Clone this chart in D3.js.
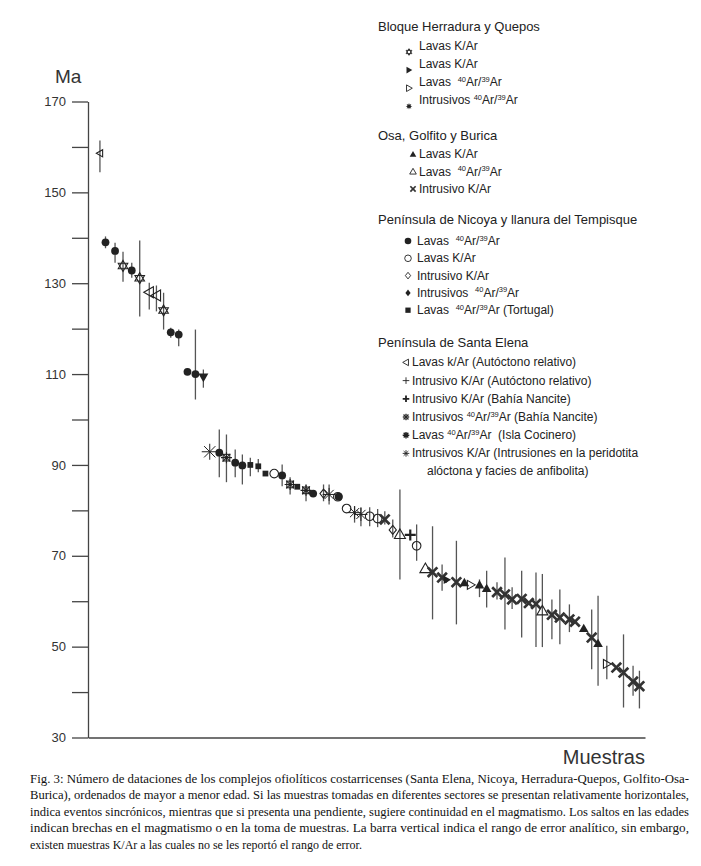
<!DOCTYPE html>
<html>
<head>
<meta charset="utf-8">
<script src="https://d3js.org/d3.v7.min.js"></script>
<style>
body { margin: 0; background: #fff; }
svg { display: block; }
text { white-space: pre; }
</style>
</head>
<body>
<svg id="chart" width="701" height="866"></svg>
<script>
// position of each sample along the "Muestras" axis (order of decreasing age)
var samplePos = [1.5, 2.2, 3.4, 4.4, 5.5, 6.5, 7.7, 8.6, 9.5, 10.4, 11.4, 12.5, 13.5, 14.5,
  15.3, 16.5, 17.4, 18.5, 19.4, 20.4, 21.4, 22.3, 23.4, 24.4, 25.4, 26.3, 27.4, 28.3,
  29.6, 30.3, 31.4, 31.5, 32.5, 33.5, 34.3, 35.4, 36.4, 37.3, 38.3, 39.2, 40.5, 41.3,
  42.4, 43.3, 44.5, 45.1, 46.3, 47.3, 48.1, 49.2, 50.1, 51.4, 52.4, 53.3, 54.5, 55.4,
  56.3, 57.1, 58.3, 59.3, 60.5, 61.2, 62.3, 63.3, 64.1, 65.2, 66.4, 67.3, 68.5, 69.3];

var sampleType = ["triLeftO", "circleF", "circleF", "starOpen", "circleF", "starOpen", "triLeftO", "triLeftO", "starOpen", "circleF", "circleF", "circleF", "circleF", "triDownF",
  "asterisk", "circleF", "starSquare", "circleF", "circleF", "squareF", "squareF", "squareF", "circleO", "circleF", "starSquare", "squareF", "starSquare", "circleF",
  "diamondO", "asterisk", "circleO", "circleF", "circleO", "asterisk", "asterisk", "circleO", "circleO", "cross", "diamondO", "triUpO", "plusBold", "circleO",
  "triUpO", "cross", "cross", "triRightF", "cross", "triUpF", "triRightO", "triUpF", "triUpF", "cross", "cross", "cross", "cross", "cross",
  "cross", "triUpO", "cross", "cross", "cross", "cross", "triUpF", "cross", "triUpF", "triRightO", "cross", "cross", "cross", "cross"];

var ageMa = [158.6, 139.0, 137.1, 133.8, 132.8, 131.1, 128.0, 127.3, 124.0, 119.2, 118.7, 110.5, 110.0, 109.3,
  92.9, 92.7, 91.6, 90.5, 89.9, 90.0, 89.7, 88.1, 88.1, 87.7, 85.7, 85.2, 84.4, 83.7,
  83.7, 83.5, 83.0, 83.0, 80.4, 79.5, 79.1, 78.7, 78.2, 78.0, 75.7, 74.7, 74.6, 72.2,
  67.2, 66.4, 65.2, 64.7, 64.2, 64.1, 63.6, 63.6, 62.8, 62.0, 61.5, 60.4, 60.5, 59.6,
  59.4, 57.9, 57.0, 56.4, 56.0, 55.5, 54.0, 52.0, 50.7, 46.2, 45.4, 44.3, 42.3, 41.3];

var errHigh = [161.4, 140.3, 138.9, 136.9, 134.5, 139.4, 130.1, 129.5, 127.9, 120.2, 119.8, null, 119.8, 111.0,
  null, 97.8, 96.7, 93.4, 92.3, 91.6, 91.3, null, null, 90.1, 87.3, null, 85.7, null,
  85.7, 85.7, null, null, null, 80.9, 80.7, 80.7, 80.3, 79.8, 78.0, 84.6, null, 76.9,
  null, 76.5, 68.1, null, 73.3, null, null, 64.8, 66.7, 64.2, 69.6, 63.1, 66.7, null,
  66.3, 66.0, 60.4, 62.6, 59.3, null, null, 58.2, 61.2, 50.2, null, 52.7, 45.8, 44.7];

var errLow = [154.4, 137.7, 134.5, 130.3, 131.2, 122.7, 124.2, 123.8, 119.8, 118.0, 116.1, null, 104.4, 107.0,
  null, 87.3, 86.2, 87.3, 85.7, 87.5, 88.4, null, null, 85.3, 83.5, null, 82.0, null,
  82.0, 81.3, null, null, null, 77.3, 76.5, 76.5, 76.3, 76.9, 74.0, 64.8, null, 68.9,
  null, 56.0, 62.3, null, 54.9, null, null, 60.9, 58.6, 60.4, 53.8, 58.3, 52.0, null,
  49.9, 49.9, 51.6, 50.5, 53.2, null, null, 45.0, 41.4, 42.8, null, 36.6, 39.2, 36.4];

var yTicks = [30, 40, 50, 60, 70, 80, 90, 100, 110, 120, 130, 140, 150, 160, 170];
var yTickLabels = [30, 50, 70, 90, 110, 130, 150, 170];

var groupTitles = ["Bloque Herradura y Quepos", "Osa, Golfito y Burica",
  "Península de Nicoya y llanura del Tempisque", "Península de Santa Elena"];
var legendSymbols = [
  ["starOpen", "triRightF", "triRightO", "starFilled"],
  ["triUpF", "triUpO", "cross"],
  ["circleF", "circleO", "diamondO", "diamondF", "squareF"],
  ["triLeftO", "plusThin", "plusBold", "starSquare", "burst", "asterisk"]
];
var legendLabels = [
  ["Lavas K/Ar", "Lavas K/Ar", "Lavas  {40}Ar/{39}Ar", "Intrusivos {40}Ar/{39}Ar"],
  ["Lavas K/Ar", "Lavas  {40}Ar/{39}Ar", "Intrusivo K/Ar"],
  ["Lavas  {40}Ar/{39}Ar", "Lavas K/Ar", "Intrusivo K/Ar", "Intrusivos  {40}Ar/{39}Ar", "Lavas  {40}Ar/{39}Ar (Tortugal)"],
  ["Lavas k/Ar (Autóctono relativo)", "Intrusivo K/Ar (Autóctono relativo)", "Intrusivo K/Ar (Bahía Nancite)",
   "Intrusivos {40}Ar/{39}Ar (Bahía Nancite)", "Lavas {40}Ar/{39}Ar  (Isla Cocinero)",
   "Intrusivos K/Ar (Intrusiones en la peridotita\nalóctona y facies de anfibolita)"]
];

var captionLines = [
  "Fig. 3: Número de dataciones de los complejos ofiolíticos costarricenses (Santa Elena, Nicoya, Herradura-Quepos, Golfito-Osa-",
  "Burica), ordenados de mayor a menor edad. Si las muestras tomadas en diferentes sectores se presentan relativamente horizontales,",
  "indica eventos sincrónicos, mientras que si presenta una pendiente, sugiere continuidad en el magmatismo. Los saltos en las edades",
  "indican brechas en el magmatismo o en la toma de muestras. La barra vertical indica el rango de error analítico, sin embargo,",
  "existen muestras K/Ar a las cuales no se les reportó el rango de error."
];

var svg = d3.select("#chart");
var ink = "#222";

var x = d3.scaleLinear().domain([0, 70]).range([88, 645]);
var y = d3.scaleLinear().domain([30, 170]).range([737.5, 101.5]);

// chart marker sizes per symbol type
var markSize = { circleF: 3.9, circleO: 4.3, squareF: 3.6, diamondO: 4.5, diamondF: 4.5,
  triUpF: 4.8, triUpO: 5.5, triDownF: 5, triRightF: 4.2, triRightO: 4.5, triLeftO: 5.5,
  cross: 6, plusThin: 5, plusBold: 5.5, asterisk: 6.5, burst: 5, starSquare: 5.5,
  starOpen: 5.5, starFilled: 5 };

function spokes(n, len) {
  var d = "";
  for (var k = 0; k < n; k++) {
    var a = Math.PI * k / n, dx = Math.cos(a) * len, dy = Math.sin(a) * len;
    d += "M" + (-dx) + "," + (-dy) + "L" + dx + "," + dy;
  }
  return d;
}

function drawMarker(g, type, r, small) {
  var sw = small ? 0.9 : 1.1;
  function p(d, fill, stroke, w) {
    g.append("path").attr("d", d).attr("fill", fill || "none")
      .attr("stroke", stroke || "none").attr("stroke-width", w || sw).attr("stroke-linejoin", "miter");
  }
  switch (type) {
    case "circleF": g.append("circle").attr("r", r).attr("fill", ink); break;
    case "circleO": g.append("circle").attr("r", r).attr("fill", "none").attr("stroke", ink).attr("stroke-width", sw); break;
    case "squareF": g.append("rect").attr("x", -r * 0.8).attr("y", -r * 0.8).attr("width", r * 1.6).attr("height", r * 1.6).attr("fill", ink); break;
    case "diamondO": p("M0," + (-r) + "L" + r * 0.8 + ",0L0," + r + "L" + (-r * 0.8) + ",0Z", null, ink); break;
    case "diamondF": p("M0," + (-r) + "L" + r * 0.8 + ",0L0," + r + "L" + (-r * 0.8) + ",0Z", ink); break;
    case "triUpF": p("M0," + (-r) + "L" + r + "," + r * 0.75 + "L" + (-r) + "," + r * 0.75 + "Z", ink); break;
    case "triUpO": p("M0," + (-r) + "L" + r + "," + r * 0.75 + "L" + (-r) + "," + r * 0.75 + "Z", null, ink); break;
    case "triDownF": p("M0," + r + "L" + r + "," + (-r * 0.75) + "L" + (-r) + "," + (-r * 0.75) + "Z", ink); break;
    case "triRightF": p("M" + r + ",0L" + (-r * 0.75) + "," + (-r) + "L" + (-r * 0.75) + "," + r + "Z", ink); break;
    case "triRightO": p("M" + r + ",0L" + (-r * 0.75) + "," + (-r) + "L" + (-r * 0.75) + "," + r + "Z", null, ink); break;
    case "triLeftO": p("M" + (-r) + ",0L" + r * 0.75 + "," + (-r) + "L" + r * 0.75 + "," + r + "Z", null, ink); break;
    case "cross":
      var k = r * 0.8;
      p("M" + (-k) + "," + (-k) + "L" + k + "," + k + "M" + k + "," + (-k) + "L" + (-k) + "," + k, null, "#333", small ? 1.7 : 2.7);
      break;
    case "plusThin": p("M" + (-r) + ",0H" + r + "M0," + (-r) + "V" + r, null, ink, 0.9); break;
    case "plusBold": p("M" + (-r) + ",0H" + r + "M0," + (-r) + "V" + r, null, ink, small ? 1.8 : 2.2); break;
    case "asterisk": p(spokes(4, r), null, ink, small ? 0.9 : 1); break;
    case "burst":
      p(spokes(4, r), null, ink, small ? 1.4 : 1.8);
      g.append("circle").attr("r", r * 0.45).attr("fill", ink);
      break;
    case "starSquare":
      g.append("rect").attr("x", -r * 0.6).attr("y", -r * 0.6).attr("width", r * 1.2).attr("height", r * 1.2)
        .attr("fill", "none").attr("stroke", ink).attr("stroke-width", sw);
      p(spokes(4, r), null, ink, small ? 0.9 : 1.1);
      break;
    case "starOpen":
      var h = r * 0.866;
      p("M0," + (-r) + "L" + h + "," + r / 2 + "L" + (-h) + "," + r / 2 + "Z" +
        "M0," + r + "L" + h + "," + (-r / 2) + "L" + (-h) + "," + (-r / 2) + "Z", null, ink);
      break;
    case "starFilled":
      var pts = [];
      for (var i = 0; i < 16; i++) {
        var rr = i % 2 ? r * 0.5 : r, a = Math.PI * i / 8 - Math.PI / 2;
        pts.push([Math.cos(a) * rr, Math.sin(a) * rr]);
      }
      p("M" + pts.join("L") + "Z", ink);
      break;
  }
}

// axes
var yAxis = d3.axisLeft(y).tickValues(yTicks).tickSize(16).tickSizeOuter(0).tickPadding(6)
  .tickFormat(function (d) { return yTickLabels.indexOf(d) >= 0 ? d : ""; });
var gy = svg.append("g").attr("transform", "translate(" + x(0) + ",0)").call(yAxis);
gy.selectAll("path, line").attr("stroke", "#444").attr("stroke-width", 1.3);
gy.selectAll("text").attr("font-family", "Liberation Sans, Arial, sans-serif").attr("font-size", 13).attr("fill", "#333");

var xAxis = d3.axisBottom(x).tickValues([]).tickSizeOuter(0);
var gx = svg.append("g").attr("transform", "translate(0," + y(30) + ")").call(xAxis);
gx.select("path").attr("stroke", "#444").attr("stroke-width", 1.3);

svg.append("text").attr("x", 55).attr("y", 83).text("Ma")
  .attr("font-family", "Liberation Sans, Arial, sans-serif").attr("font-size", 19).attr("fill", "#333");
svg.append("text").attr("x", 645).attr("y", 764).attr("text-anchor", "end").text("Muestras")
  .attr("font-family", "Liberation Sans, Arial, sans-serif").attr("font-size", 20).attr("fill", "#333");

// error bars
var idx = d3.range(samplePos.length);
svg.append("g").selectAll("line").data(idx.filter(function (i) { return errHigh[i] != null; }))
  .enter().append("line")
  .attr("x1", function (i) { return x(samplePos[i]); })
  .attr("x2", function (i) { return x(samplePos[i]); })
  .attr("y1", function (i) { return y(errHigh[i]); })
  .attr("y2", function (i) { return y(errLow[i]); })
  .attr("stroke", "#555").attr("stroke-width", 1.3);

// markers
svg.append("g").selectAll("g").data(idx).enter().append("g")
  .attr("transform", function (i) { return "translate(" + x(samplePos[i]) + "," + y(ageMa[i]) + ")"; })
  .each(function (i) {
    var r = markSize[sampleType[i]];
    if (i === 0) r = 3.6;
    if (i === 14) r = 8;
    drawMarker(d3.select(this), sampleType[i], r, false);
  });

// legend
var titleY = [31, 140, 224, 347];
var firstOff = [19, 18.3, 21, 19.4];
var step = [18.1, 17.3, 17.3, 18.2];
var symX = [409, 413, 408, 406];
var txtX = [419, 419, 417, 412];
var symDy = [2, -4, -4, -4];

function richText(t, str) {
  var parts = str.split(/(\{\d+\})/), up = false;
  parts.forEach(function (s) {
    if (!s) return;
    var m = s.match(/^\{(\d+)\}$/);
    if (m) {
      t.append("tspan").attr("font-size", 7.5).attr("dy", up ? 0 : -4.5).text(m[1]);
      up = true;
    } else {
      t.append("tspan").attr("dy", up ? 4.5 : 0).text(s);
      up = false;
    }
  });
}

var lg = svg.append("g").attr("font-family", "Liberation Sans, Arial, sans-serif").attr("fill", ink);
groupTitles.forEach(function (title, gi) {
  lg.append("text").attr("x", 378).attr("y", titleY[gi]).attr("font-size", 13).text(title);
  legendSymbols[gi].forEach(function (sym, k) {
    var by = titleY[gi] + firstOff[gi] + k * step[gi];
    drawMarker(lg.append("g").attr("transform", "translate(" + symX[gi] + "," + (by + symDy[gi]) + ")"), sym, 3.3, true);
    var lines = legendLabels[gi][k].split("\n");
    lines.forEach(function (ln, li) {
      var t = lg.append("text").attr("x", li ? txtX[gi] + 15 : txtX[gi]).attr("y", by + li * 17.7).attr("font-size", 12);
      richText(t, ln);
    });
  });
});

// caption
var cg = svg.append("g").attr("font-family", "Liberation Serif, Times New Roman, serif").attr("font-size", 12).attr("fill", "#111");
captionLines.forEach(function (ln, i) {
  var t = cg.append("text").attr("x", 30).attr("y", 783 + i * 16.4).text(ln);
  if (i < captionLines.length - 1) t.attr("textLength", 659).attr("lengthAdjust", "spacingAndGlyphs");
});
</script>
</body>
</html>
